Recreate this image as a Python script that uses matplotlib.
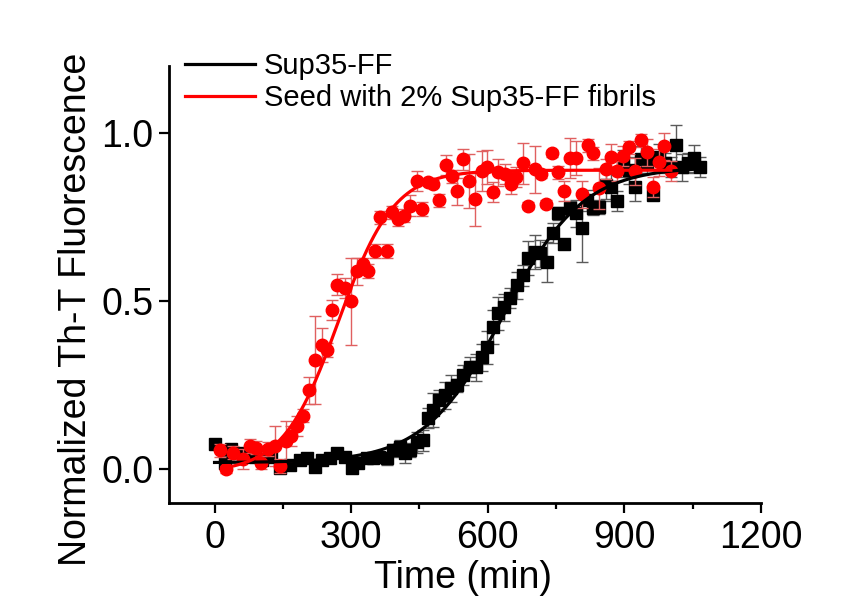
import numpy as np
import matplotlib
matplotlib.use("Agg")
import matplotlib.pyplot as plt
from matplotlib.ticker import MultipleLocator

plt.rcParams['font.family'] = ['Liberation Sans', 'DejaVu Sans']

# ---- data: Sup35-FF (black squares) ----
black_t = [0, 22, 37, 51, 70, 88, 105, 125, 143, 165, 187, 204, 220, 237, 253, 270, 286,
           301, 314, 334, 347, 362, 378, 391, 407, 418, 429, 444, 457, 468, 479, 492, 505,
           519, 532, 545, 560, 574, 587, 598, 611, 622, 635, 648, 664, 677, 688, 703, 714,
           730, 743, 754, 767, 780, 793, 806, 818, 831, 844, 859, 870, 884, 897, 910, 923,
           936, 949, 963, 976, 989, 1002, 1013, 1026, 1040, 1053, 1066]
black_y = [0.077, 0.020, 0.062, 0.050, 0.040, 0.037, 0.027, 0.037, 0.003, 0.012, 0.027,
           0.033, 0.006, 0.027, 0.033, 0.048, 0.037, 0.003, 0.020, 0.033, 0.033, 0.037,
           0.033, 0.057, 0.066, 0.048, 0.057, 0.080, 0.086, 0.152, 0.176, 0.205, 0.220,
           0.241, 0.250, 0.280, 0.304, 0.304, 0.333, 0.363, 0.423, 0.464, 0.482, 0.509,
           0.548, 0.577, 0.628, 0.646, 0.643, 0.616, 0.702, 0.762, 0.670, 0.777, 0.762,
           0.717, 0.800, 0.777, 0.780, 0.845, 0.839, 0.798, 0.911, 0.890, 0.839, 0.923,
           0.911, 0.815, 0.929, 0.911, 0.899, 0.964, 0.899, 0.911, 0.926, 0.899]
black_err = [0.01, 0.02, 0.01, 0.01, 0.01, 0.01, 0.01, 0.01, 0.01, 0.01, 0.01, 0.01, 0.01,
             0.01, 0.01, 0.01, 0.01, 0.01, 0.01, 0.01, 0.01, 0.01, 0.02, 0.02, 0.02, 0.03,
             0.02, 0.03, 0.03, 0.03, 0.05, 0.03, 0.04, 0.04, 0.02, 0.03, 0.03, 0.04, 0.04,
             0.05, 0.05, 0.05, 0.04, 0.03, 0.04, 0.03, 0.05, 0.05, 0.04, 0.06, 0.03, 0.02,
             0.01, 0.02, 0.04, 0.10, 0.03, 0.02, 0.02, 0.04, 0.04, 0.03, 0.04, 0.04, 0.04,
             0.04, 0.03, 0.01, 0.04, 0.03, 0.03, 0.06, 0.04, 0.03, 0.04, 0.03]

# ---- data: seeded with 2% fibrils (red circles) ----
red_t = [11, 26, 40, 62, 77, 92, 103, 117, 132, 143, 156, 169, 180, 194, 207, 220, 235,
         246, 259, 270, 286, 299, 312, 325, 338, 352, 363, 378, 389, 402, 415, 429, 444,
         455, 468, 479, 492, 508, 521, 532, 545, 558, 571, 587, 598, 611, 622, 637, 651,
         663, 677, 688, 703, 716, 727, 741, 754, 767, 780, 793, 806, 820, 831, 844, 859,
         870, 884, 897, 910, 923, 936, 949, 963, 976, 987, 1002]
red_y = [0.057, 0.000, 0.050, 0.030, 0.070, 0.065, 0.020, 0.060, 0.070, 0.010, 0.085,
         0.100, 0.130, 0.160, 0.235, 0.325, 0.370, 0.355, 0.475, 0.550, 0.540, 0.500,
         0.590, 0.610, 0.590, 0.650, 0.750, 0.650, 0.765, 0.745, 0.755, 0.785, 0.857,
         0.775, 0.855, 0.850, 0.800, 0.905, 0.872, 0.827, 0.922, 0.857, 0.803, 0.887,
         0.900, 0.825, 0.884, 0.878, 0.850, 0.870, 0.910, 0.785, 0.893, 0.878, 0.790,
         0.940, 0.884, 0.827, 0.926, 0.926, 0.818, 0.964, 0.940, 0.836, 0.893, 0.929,
         0.887, 0.932, 0.958, 0.887, 0.979, 0.943, 0.839, 0.914, 0.961, 0.887]
red_err = [0.02, 0.01, 0.02, 0.03, 0.02, 0.02, 0.02, 0.02, 0.06, 0.02, 0.06, 0.03, 0.03,
           0.02, 0.04, 0.13, 0.05, 0.02, 0.03, 0.03, 0.03, 0.13, 0.04, 0.02, 0.02, 0.02,
           0.02, 0.02, 0.02, 0.02, 0.02, 0.03, 0.03, 0.02, 0.01, 0.01, 0.02, 0.03, 0.02,
           0.04, 0.03, 0.08, 0.08, 0.06, 0.05, 0.03, 0.04, 0.03, 0.03, 0.03, 0.06, 0.01,
           0.07, 0.01, 0.01, 0.01, 0.02, 0.03, 0.06, 0.05, 0.04, 0.02, 0.02, 0.06, 0.03,
           0.04, 0.03, 0.03, 0.02, 0.04, 0.02, 0.04, 0.03, 0.04, 0.04, 0.03]

# ---- Boltzmann fit parameters ----
black_fit = dict(A1=0.02, A2=0.90, x0=635.0, dx=87.0, tmin=0, tmax=1066)
red_fit = dict(A1=-0.01, A2=0.89, x0=272.0, dx=61.0, tmin=20, tmax=1002)

labels = ["Sup35-FF", "Seed with 2% Sup35-FF fibrils"]


def boltzmann(p):
    t = np.linspace(p['tmin'], p['tmax'], 400)
    return t, p['A2'] + (p['A1'] - p['A2']) / (1 + np.exp((t - p['x0']) / p['dx']))


fig = plt.figure(figsize=(8.6, 6.0), dpi=100)
ax = fig.add_axes([169 / 860, 1 - 503 / 600, 592 / 860, 437 / 600])

ax.errorbar(black_t, black_y, yerr=black_err, fmt='s', color='black', ms=8,
            ecolor='#5a5a5a', elinewidth=1.0, capsize=4, capthick=1.0, zorder=2)
ax.errorbar(red_t, red_y, yerr=red_err, fmt='o', color='#ff0000', ms=9,
            ecolor='#e06060', elinewidth=1.0, capsize=4, capthick=1.0, zorder=3)

tb, yb = boltzmann(black_fit)
tr, yr = boltzmann(red_fit)
ax.plot(tb, yb, color='black', lw=2.3, zorder=4, label=labels[0])
ax.plot(tr, yr, color='#ff0000', lw=2.3, zorder=5, label=labels[1])

ax.set_xlim(-100, 1200)
ax.set_ylim(-0.1, 1.2)
ax.xaxis.set_major_locator(MultipleLocator(300))
ax.xaxis.set_minor_locator(MultipleLocator(150))
ax.yaxis.set_major_locator(MultipleLocator(0.5))
ax.yaxis.set_major_formatter(matplotlib.ticker.FormatStrFormatter('%.1f'))

for s in ['top', 'right']:
    ax.spines[s].set_visible(False)
for s in ['left', 'bottom']:
    ax.spines[s].set_linewidth(2.0)

ax.tick_params(axis='both', which='major', direction='out', length=7, width=1.6,
               labelsize=27, pad=4)
ax.tick_params(axis='x', which='minor', direction='out', length=4.5, width=1.6)
ax.tick_params(axis='x', which='major', pad=5)

ax.set_xlabel("Time (min)", fontsize=27, va='center')
ax.xaxis.set_label_coords(0.497, -0.172)
ax.set_ylabel("Normalized Th-T Fluorescence", fontsize=27, va='center')
ax.yaxis.set_label_coords(-0.157, 0.442)

leg = ax.legend(loc='upper left', bbox_to_anchor=(185 / 860, 1 - 52 / 600),
                bbox_transform=fig.transFigure, frameon=False, fontsize=21,
                handlelength=2.4, handletextpad=0.3, labelspacing=0.15,
                borderpad=0, borderaxespad=0)
for line in leg.get_lines():
    line.set_linewidth(2.3)

fig.savefig("out.png", dpi=100, facecolor='white')
